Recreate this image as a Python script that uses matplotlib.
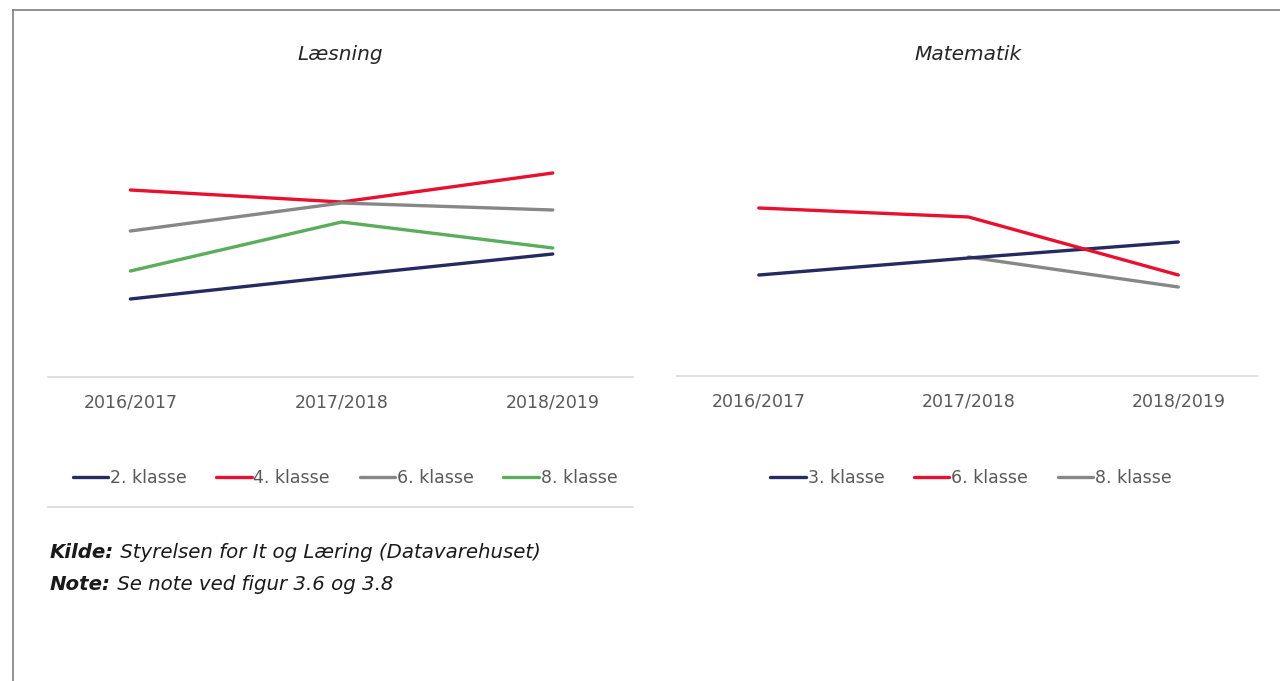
import numpy as np
import matplotlib
matplotlib.use("Agg")
import matplotlib.pyplot as plt
from matplotlib.lines import Line2D

# data (arbitrary index, no y axis shown)
years = ["2016/2017", "2017/2018", "2018/2019"]

laes_labels = ["2. klasse", "4. klasse", "6. klasse", "8. klasse"]
laes_2 = [78, 101, 123]
laes_4 = [187, 175, 204]
laes_6 = [146, 174, 167]
laes_8 = [106, 155, 129]

mat_labels = ["3. klasse", "6. klasse", "8. klasse"]
mat_3 = [101, 118, 134]
mat_6 = [168, 159, 101]
mat_8 = [np.nan, 119, 89]

navy = "#252a60"
red = "#e8102e"
gray = "#878787"
green = "#59ad5b"
tick_col = "#595959"

W, H = 1280, 681
fig = plt.figure(figsize=(W / 100, H / 100), dpi=100)


def fx(px):
    return px / W


def fy(py):
    return 1 - py / H


def setup(ax, title, cx):
    ax.set_xlim(-0.39, 2.38)
    for s in ["top", "right", "left"]:
        ax.spines[s].set_visible(False)
    ax.spines["bottom"].set_color("#d9d9d9")
    ax.spines["bottom"].set_linewidth(1.2)
    ax.set_yticks([])
    ax.set_xticks(range(len(years)))
    ax.set_xticklabels(years, fontsize=12.5, color=tick_col, family="DejaVu Sans")
    ax.tick_params(axis="x", length=0, pad=12)
    fig.text(fx(cx), fy(54), title, ha="center", va="center", fontsize=14.5,
             style="italic", family="DejaVu Sans", color="#262626")


leg_kw = dict(loc="center", bbox_transform=fig.transFigure, frameon=False,
              handlelength=2.05, handletextpad=0.1, columnspacing=1.7,
              prop={"family": "DejaVu Sans", "size": 12.5}, labelcolor=tick_col)

# Læsning
ax1 = fig.add_axes([fx(48), fy(377), fx(633 - 48), (377 - 80) / H])
x = np.arange(len(years))
for vals, lab, c in zip([laes_2, laes_4, laes_6, laes_8], laes_labels, [navy, red, gray, green]):
    ax1.plot(x, vals, color=c, lw=2.4, label=lab, solid_capstyle="round")
ax1.set_ylim(0, 297)
setup(ax1, "Læsning", 340)
ax1.legend(bbox_to_anchor=(fx(345), fy(478)), ncol=4, **leg_kw)

# Matematik
ax2 = fig.add_axes([fx(677), fy(376), fx(1258 - 677), (376 - 80) / H])
for vals, lab, c in zip([mat_8, mat_3, mat_6], [mat_labels[2], mat_labels[0], mat_labels[1]],
                        [gray, navy, red]):
    ax2.plot(x, vals, color=c, lw=2.4, label=lab, solid_capstyle="round")
ax2.set_ylim(0, 296)
setup(ax2, "Matematik", 968)
h, l = ax2.get_legend_handles_labels()
order = [1, 2, 0]
ax2.legend([h[i] for i in order], [l[i] for i in order],
           bbox_to_anchor=(fx(971), fy(478)), ncol=3, **leg_kw)

# separator under legend
fig.add_artist(Line2D([fx(48), fx(633)], [fy(507), fy(507)], color="#d9d9d9", lw=1.2))

# frame lines (left and top)
fig.add_artist(Line2D([fx(13), fx(13)], [fy(10), 0], color="#7f7f7f", lw=1.2))
fig.add_artist(Line2D([fx(13), 1], [fy(10), fy(10)], color="#7f7f7f", lw=1.2))

# source / note
renderer = fig.canvas.get_renderer()
for py, bold, rest in [(553, "Kilde:", " Styrelsen for It og Læring (Datavarehuset)"),
                       (584, "Note:", " Se note ved figur 3.6 og 3.8")]:
    t = fig.text(fx(50), fy(py), bold, ha="left", va="center", fontsize=14.2,
                 style="italic", weight="bold", family="DejaVu Sans", color="#1a1a1a")
    bb = t.get_window_extent(renderer)
    fig.text(bb.x1 / W, fy(py), rest, ha="left", va="center", fontsize=14.2,
             style="italic", family="DejaVu Sans", color="#1a1a1a")

fig.savefig("out.png", dpi=100, facecolor="white")
